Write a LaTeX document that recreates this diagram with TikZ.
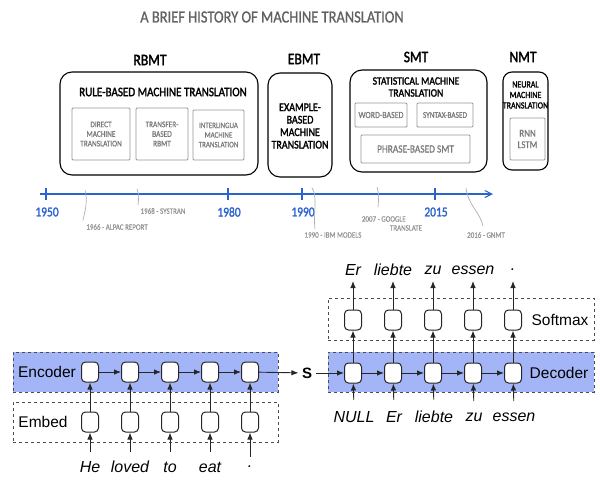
\documentclass[tikz,border=0pt]{standalone}
\usepackage{fontspec}
\setmainfont{Liberation Sans}
\newfontfamily\sketch[FakeStretch=0.85, FakeBold=0.8]{Carlito}
\newfontfamily\sketchbold[FakeStretch=0.85, FakeBold=1.8]{Carlito}
\usetikzlibrary{arrows.meta}

\definecolor{tlblue}{HTML}{2A62D0}
\definecolor{bandblue}{HTML}{A3B5F7}
\definecolor{subgray}{HTML}{7A7A7A}

\tikzset{
  header/.style={font=\sketchbold\fontsize{16}{17}\selectfont},
  bigbox/.style={draw, line width=1.1pt, rounded corners=12pt},
  bigtext/.style={font=\sketchbold\fontsize{11.8}{12.5}\selectfont, align=center},
  subbox/.style={draw=subgray!80, line width=0.8pt, rounded corners=1pt},
  subtext/.style={font=\sketch\fontsize{8.6}{9.6}\selectfont, text=subgray, align=center},
  year/.style={font=\sketchbold\fontsize{13.5}{14}\selectfont, text=tlblue},
  event/.style={font=\sketch\fontsize{8.2}{9}\selectfont, text=subgray!80, align=center},
  evline/.style={draw=subgray!60, line width=0.7pt},
  tl/.style={draw=tlblue, line width=1.1pt},
  band/.style={draw=black!70, dashed, line width=0.7pt},
  cell/.style={draw=black!85, fill=white, rounded corners=4pt, line width=1pt,
    minimum width=17pt, minimum height=20pt, inner sep=0pt},
  arr/.style={draw=black!85, line width=0.9pt, -{Latex[length=7pt,width=5.5pt]}},
  word/.style={font=\itshape\fontsize{16}{16}\selectfont},
  lbl/.style={font=\fontsize{15.5}{16}\selectfont}
}

\begin{document}
\begin{tikzpicture}[x=1pt,y=-1pt]
\useasboundingbox (0,0) rectangle (600,483);

% title
\node[font=\sketch\fontsize{17}{18}\selectfont, text=black!62] (title) at (272,17) {A BRIEF HISTORY OF MACHINE TRANSLATION};

% RBMT
\node[header] (rbmt) at (150,60) {RBMT};
\node[bigbox, minimum width=198pt, minimum height=103pt] (rbmtbox) at (159,123.5) {};
\node[bigtext, font=\sketchbold\fontsize{13}{14}\selectfont] (rbmtname) at (163,92) {RULE-BASED MACHINE TRANSLATION};
\node[subbox, minimum width=58pt, minimum height=52pt] (direct) at (101,134) {};
\node[subtext] at (direct) {DIRECT\\MACHINE\\TRANSLATION};
\node[subbox, minimum width=52pt, minimum height=52pt] (transfer) at (162,134) {};
\node[subtext] at (transfer) {TRANSFER-\\BASED\\RBMT};
\node[subbox, minimum width=51pt, minimum height=50pt] (inter) at (218.5,135) {};
\node[subtext, font=\sketch\fontsize{8.2}{9.6}\selectfont] at (inter) {INTERLINGUA\\MACHINE\\TRANSLATION};

% EBMT
\node[header] (ebmt) at (304,59) {EBMT};
\node[bigbox, minimum width=64pt, minimum height=104pt] (ebmtbox) at (300,125) {};
\node[bigtext] (ebmtname) at (300,126) {EXAMPLE-\\BASED\\MACHINE\\TRANSLATION};

% SMT
\node[header] (smt) at (416,57) {SMT};
\node[bigbox, minimum width=137pt, minimum height=102pt] (smtbox) at (418.5,121) {};
\node[bigtext, font=\sketchbold\fontsize{11.3}{12}\selectfont] (smtname) at (416,87) {STATISTICAL MACHINE\\TRANSLATION};
\node[subbox, minimum width=52pt, minimum height=24pt] (wordb) at (381,115) {};
\node[subtext, font=\sketch\fontsize{9.3}{10}\selectfont] at (wordb) {WORD-BASED};
\node[subbox, minimum width=56pt, minimum height=24pt] (syntax) at (445,115) {};
\node[subtext, font=\sketch\fontsize{8.6}{10}\selectfont] at (syntax) {SYNTAX-BASED};
\node[subbox, minimum width=109pt, minimum height=28pt] (phrase) at (415.5,149) {};
\node[subtext, font=\sketch\fontsize{11}{12}\selectfont] at (phrase) {PHRASE-BASED SMT};

% NMT
\node[header] (nmt) at (523,57) {NMT};
\node[bigbox, rounded corners=9pt, minimum width=45pt, minimum height=98pt] (nmtbox) at (525.5,121) {};
\node[bigtext, font=\sketchbold\fontsize{9.4}{10.5}\selectfont] (nmtname) at (525.5,95) {NEURAL\\MACHINE\\TRANSLATION};
\node[subbox, minimum width=35pt, minimum height=42pt] (rnn) at (527.5,139) {};
\node[subtext, font=\sketch\fontsize{10.5}{11.5}\selectfont] at (rnn) {RNN\\LSTM};

% timeline
\coordinate (axstart) at (40,194);
\coordinate (axend) at (493,194);
\draw[tl, -{Straight Barb[length=7pt,width=7pt]}] (axstart) -- (axend);
\foreach \x/\yr in {46/1950, 228/1980, 302/1990, 435/2015}{
  \draw[tl] (\x,188) -- (\x,200);
  \node[year] (y\yr) at (\x+1,212) {\yr};
}

\node[event] (alpac) at (117,227) {1966 - ALPAC REPORT};
\node[event] (systran) at (163,211) {1968 - SYSTRAN};
\node[event] (ibm) at (333,235) {1990 - IBM MODELS};
\node[event, align=left] (google) at (392,223.5) {2007 - GOOGLE\\\hspace*{28pt}TRANSLATE};
\node[event] (gnmt) at (486,235) {2016 - GNMT};

\coordinate (e1966) at (85,190);
\coordinate (e1968) at (137,189);
\coordinate (e1990) at (312,188);
\coordinate (e2007) at (377,187);
\coordinate (e2016) at (466,188);
\draw[evline] (e1966) .. controls (88,200) and (85,212) .. (alpac.north west);
\draw[evline] (e1968) .. controls (139,196) .. (138,205);
\draw[evline] (e1990) .. controls (318,196) and (313,215) .. (315,229);
\draw[evline] (e2007) .. controls (379,196) .. (378,207);
\draw[evline] (e2016) .. controls (468,205) and (480,212) .. (483,226);

% encoder side
\node[band, fill=bandblue, minimum width=265pt, minimum height=40pt] (encband) at (145.5,372) {};
\node[band, minimum width=265pt, minimum height=40pt] (embband) at (145.5,422) {};
\node[lbl] (enclbl) at (47,372) {Encoder};
\node[lbl] (emblbl) at (43,422) {Embed};
\foreach \w [count=\i] in {He, loved, to, eat, .}{
  \node[cell] (e\i) at (50+40*\i,372) {};
  \node[cell] (m\i) at (50+40*\i,422) {};
  \node[word] (w\i) at (50+40*\i,467) {\w};
  \draw[arr] (m\i) -- (e\i);
  \draw[arr, shorten <=6pt] (w\i.north) -- (m\i);
}
\foreach \i [evaluate=\i as \j using int(\i+1)] in {1,...,4}
  \draw[arr] (e\i) -- (e\j);

% decoder side
\node[band, fill=bandblue, minimum width=266pt, minimum height=40pt] (decband) at (461,372) {};
\node[band, minimum width=266pt, minimum height=42pt] (smband) at (461,319) {};
\node[lbl] (declbl) at (559,373) {Decoder};
\node[lbl] (smlbl) at (560,320) {Softmax};
\node[font=\bfseries\fontsize{15}{15}\selectfont] (s) at (307,373) {S};
\draw[arr] (e5) -- (s);
\foreach \w/\o [count=\i] in {NULL/Er, Er/liebte, liebte/zu, zu/essen, essen/.}{
  \node[cell] (d\i) at (313+40*\i,373) {};
  \node[cell] (s\i) at (313+40*\i,320) {};
  \node[word] (n\i) at (314+40*\i,417) {\w};
  \node[word] (o\i) at (313+40*\i,270) {\o};
  \draw[arr] (d\i) -- (s\i);
  \draw[arr, shorten >=-2pt] (s\i) -- (o\i.south |- 0,283);
  \draw[arr, shorten <=8pt] (n\i.north) -- (d\i);
}
\draw[arr] (s) -- (d1);
\foreach \i [evaluate=\i as \j using int(\i+1)] in {1,...,4}
  \draw[arr] (d\i) -- (d\j);
\end{tikzpicture}
\end{document}
